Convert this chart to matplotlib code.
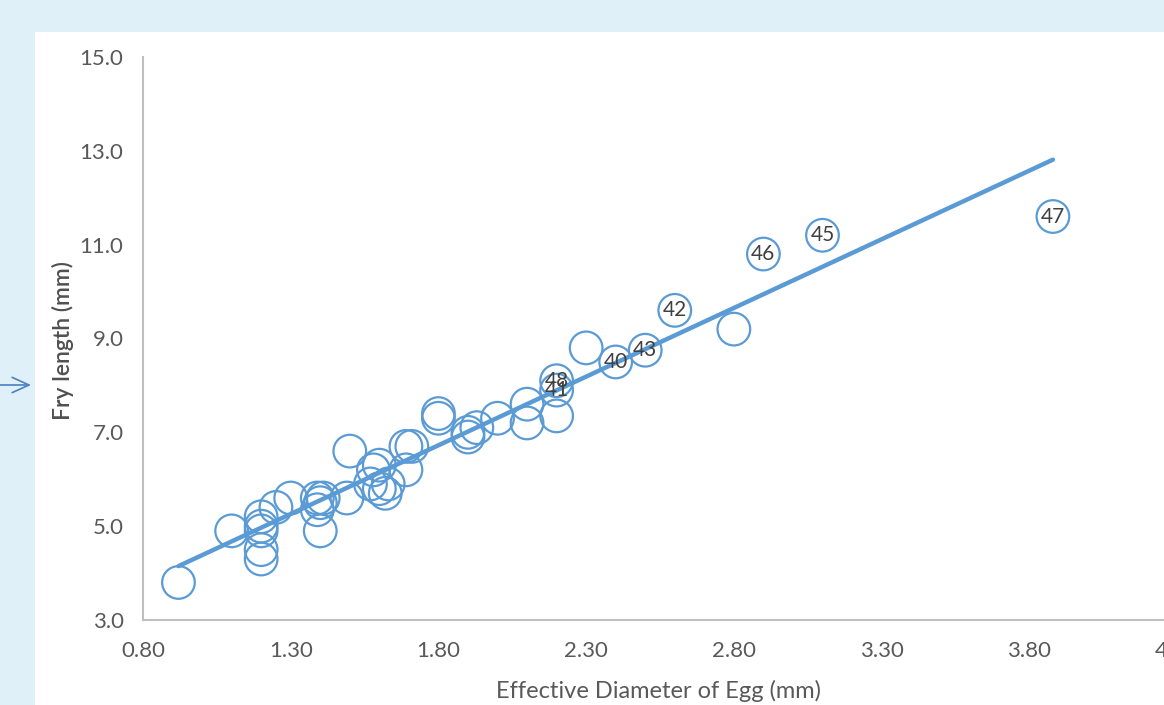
import matplotlib
matplotlib.use("Agg")
import matplotlib.pyplot as plt
from matplotlib.patches import Rectangle, FancyArrowPatch
import numpy as np

# egg diameter (mm) vs fry length (mm)
diameter = [0.92, 1.10, 1.20, 1.20, 1.20, 1.20, 1.20, 1.25, 1.30, 1.39,
            1.40, 1.41, 1.39, 1.40, 1.49, 1.50, 1.57, 1.58, 1.60, 1.60,
            1.62, 1.63, 1.69, 1.71, 1.69, 1.80, 1.80, 1.90, 1.90, 1.93,
            2.00, 2.10, 2.10, 2.20, 2.30, 2.80]
fry_length = [3.8, 4.9, 5.2, 5.0, 4.9, 4.5, 4.3, 5.4, 5.6, 5.6,
              5.5, 5.6, 5.35, 4.9, 5.6, 6.6, 5.9, 6.2, 6.3, 5.8,
              5.7, 5.9, 6.7, 6.7, 6.2, 7.4, 7.3, 6.9, 7.0, 7.1,
              7.3, 7.6, 7.2, 7.35, 8.8, 9.2]

# labelled points
label_ids = ["40", "41", "42", "43", "45", "46", "47", "48"]
label_x = [2.40, 2.20, 2.60, 2.50, 3.10, 2.90, 3.88, 2.20]
label_y = [8.5, 7.9, 9.6, 8.75, 11.2, 10.8, 11.6, 8.1]

xticks = [0.8, 1.3, 1.8, 2.3, 2.8, 3.3, 3.8, 4.3]
yticks = [3, 5, 7, 9, 11, 13, 15]

blue = "#5B9BD5"
grey = "#595959"

plt.rcParams['font.family'] = ['Lato', 'DejaVu Sans']

fig = plt.figure(figsize=(11.64, 7.05), dpi=100)
fig.patch.set_facecolor("#DFF0F9")
fig.patches.append(Rectangle((35 / 1164, 0), 1 - 35 / 1164, 1 - 32 / 705,
                             transform=fig.transFigure, facecolor="white",
                             edgecolor="none", zorder=-10))

ax = fig.add_axes([143 / 1164, 85 / 705, 1034 / 1164, 563 / 705])
ax.set_facecolor("none")

all_x = np.array(diameter + label_x)
all_y = np.array(fry_length + label_y)

ax.scatter(all_x, all_y, s=23.5 ** 2, facecolors="none", edgecolors=blue,
           linewidths=1.6, zorder=3)

# linear trend line
k, b = np.polyfit(all_x, all_y, 1)
tx = np.array([all_x.min(), all_x.max()])
ax.plot(tx, k * tx + b, color=blue, lw=3.2, solid_capstyle="round", zorder=2)

for t, x, y in zip(label_ids, label_x, label_y):
    ax.text(x, y, t, ha="center", va="center", fontsize=15, color="#404040", zorder=4)

ax.set_xlim(0.8, 4.3)
ax.set_ylim(3, 15)
ax.set_xticks(xticks)
ax.set_xticklabels([f"{v:.2f}" for v in xticks])
ax.set_yticks(yticks)
ax.set_yticklabels([f"{v:.1f}" for v in yticks])
ax.tick_params(length=0, labelsize=16, colors=grey)
ax.tick_params(axis="y", pad=14)
ax.tick_params(axis="x", pad=15)
for s in ["top", "right"]:
    ax.spines[s].set_visible(False)
for s in ["left", "bottom"]:
    ax.spines[s].set_color("#BFBFBF")
    ax.spines[s].set_linewidth(1.5)

ax.set_xlabel("Effective Diameter of Egg (mm)", fontsize=17, color=grey)
ax.set_ylabel("Fry length (mm)", fontsize=16.5, color="#505050", fontweight="semibold")
ax.xaxis.set_label_coords(0.499, -0.106)
ax.yaxis.set_label_coords(-0.067, 0.497)

fig.add_artist(FancyArrowPatch((0, 1 - 385 / 705), (31 / 1164, 1 - 385 / 705),
                               transform=fig.transFigure, arrowstyle="->,head_length=0.55,head_width=0.25",
                               mutation_scale=22, color="#4A7FC1", lw=1.2,
                               shrinkA=0, shrinkB=0))

fig.savefig("out.png", dpi=100, facecolor=fig.get_facecolor())
